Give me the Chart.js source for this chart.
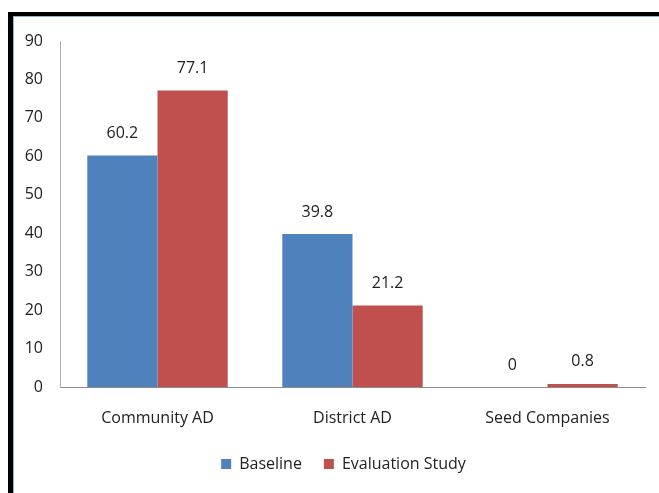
<!DOCTYPE html>
<html>
<head>
<meta charset="utf-8">
<script src="https://cdn.jsdelivr.net/npm/chart.js@4/dist/chart.umd.min.js"></script>
<style>
  html, body { margin: 0; padding: 0; background: #fff; }
  #frame {
    position: absolute; left: 8px; top: 12px; width: 651px; height: 481px;
    border-left: 5px solid #000; border-top: 4px solid #000; box-sizing: border-box;
  }
  #inner {
    position: absolute; left: 0; top: 0; right: 0; bottom: 0;
    border-left: 1px solid #8db3e2; border-top: 1px solid #8db3e2;
  }
  #wrap { position: absolute; left: 0; top: 0; width: 659px; height: 493px; }
</style>
</head>
<body>
<div id="frame"><div id="inner"></div></div>
<div id="wrap"><canvas id="barChart" width="659" height="493"></canvas></div>
<script>
const categories = ['Community AD', 'District AD', 'Seed Companies'];
const baseline = [60.2, 39.8, 0];
const evaluationStudy = [77.1, 21.2, 0.8];
const yTicks = [0, 10, 20, 30, 40, 50, 60, 70, 80, 90];

const fontFamily = '"Open Sans", "Liberation Sans", sans-serif';
const barCtx = document.querySelector('#barChart').getContext('2d');

// value labels above each bar
const valueLabels = {
    id: 'valueLabels',
    afterDatasetsDraw(chart) {
        const ctx = chart.ctx;
        ctx.save();
        ctx.font = '16px ' + fontFamily;
        ctx.fillStyle = '#222';
        ctx.textAlign = 'center';
        ctx.textBaseline = 'middle';
        chart.data.datasets.forEach((ds, i) => {
            chart.getDatasetMeta(i).data.forEach((bar, j) => {
                ctx.fillText(String(ds.data[j]), bar.x, bar.y - 22);
            });
        });
        ctx.restore();
    }
};

// legend sits a bit right of the canvas centre in the original
const legendShift = {
    id: 'legendShift',
    afterLayout(chart) {
        chart.legend.left += 42;
    }
};

let barChart = new Chart(barCtx, {
    type: 'bar',
    data: {
        labels: categories,
        datasets: [
            { label: 'Baseline', data: baseline, backgroundColor: '#4f81bd' },
            { label: 'Evaluation Study', data: evaluationStudy, backgroundColor: '#c0504d' }
        ]
    },
    options: {
        responsive: false,
        animation: false,
        layout: { padding: { left: 0, right: 14, top: 41, bottom: 11 } },
        datasets: { bar: { categoryPercentage: 0.72, barPercentage: 1 } },
        plugins: {
            legend: {
                position: 'bottom',
                labels: {
                    boxWidth: 10, boxHeight: 10, padding: 22,
                    color: '#222', font: { family: fontFamily, size: 16 }
                }
            },
            tooltip: { enabled: false }
        },
        scales: {
            x: {
                grid: { display: false, drawTicks: false },
                border: { color: '#8c8c8c' },
                ticks: { color: '#222', padding: 22, font: { family: fontFamily, size: 16 } },
                afterFit(scale) { scale.height = 47; }
            },
            y: {
                min: 0, max: 90,
                afterBuildTicks(scale) { scale.ticks = yTicks.map(v => ({ value: v })); },
                grid: { display: false, drawTicks: false },
                border: { color: '#b0b0b0' },
                ticks: { color: '#222', padding: 17, font: { family: fontFamily, size: 16 } },
                afterFit(scale) { scale.width = 60; }
            }
        }
    },
    plugins: [valueLabels, legendShift]
});
</script>
</body>
</html>
